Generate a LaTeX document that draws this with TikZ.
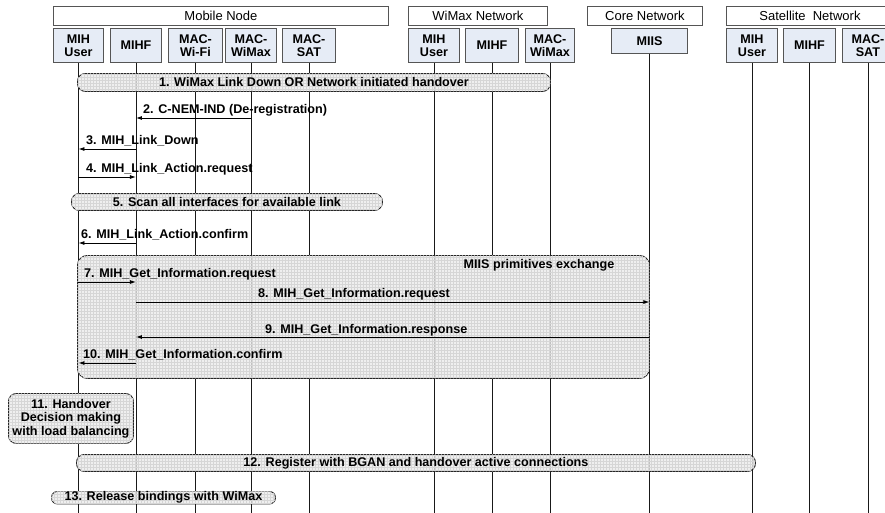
\documentclass[tikz,border=0pt]{standalone}
\usepackage{fontspec}
\setmainfont{Liberation Sans}
\usetikzlibrary{arrows.meta,patterns}

\definecolor{lifefill}{RGB}{230,236,246}
\definecolor{framecol}{RGB}{85,85,85}
\definecolor{eventfill}{RGB}{236,236,236}
\definecolor{gridcol}{RGB}{214,214,214}
\definecolor{linecol}{RGB}{25,25,25}

\tikzset{
  group/.style={draw=framecol, line width=0.9pt, fill=white, inner sep=0pt,
    anchor=north west, minimum height=19pt,
    font=\fontsize{13}{15}\selectfont},
  actor/.style={draw=framecol, line width=0.9pt, fill=lifefill, inner sep=0pt,
    anchor=north west, align=center, minimum height=34pt,
    font=\bfseries\fontsize{12.6}{13}\selectfont},
  lifeline/.style={draw=linecol, line width=0.9pt},
  eventbox/.style={draw=black!85, line width=0.9pt, fill=eventfill,
    fill opacity=0.8, text opacity=1, rounded corners=8pt,
    postaction={pattern=grid, pattern color=gridcol},
    inner sep=0pt, anchor=north west, align=center,
    font=\bfseries\fontsize{12.6}{13.5}\selectfont},
  msg/.style={draw=black, line width=0.9pt, -{Latex[length=6pt,width=4pt]}},
  lbl/.style={inner sep=0pt, anchor=base west,
    font=\bfseries\fontsize{12.6}{14}\selectfont},
}

\begin{document}
\begin{tikzpicture}[x=1pt,y=-1pt]
\clip (0,0) rectangle (885,512);
\fill[white] (0,0) rectangle (885,512);

% domain headers
\node[group, minimum width=335pt] (gmn)  at (53,6)  {Mobile Node};
\node[group, minimum width=139pt] (gwx)  at (408,6) {WiMax Network};
\node[group, minimum width=115pt] (gcore) at (587,6) {Core Network};
\node[group, minimum width=167pt] (gsat) at (726,6) {Satellite~ Network};

% entities
\node[actor, minimum width=50pt] (u1)   at (53,28)  {MIH\\User};
\node[actor, minimum width=51pt] (f1)   at (110,28) {MIHF};
\node[actor, minimum width=54pt] (wf)   at (168,28) {MAC-\\Wi-Fi};
\node[actor, minimum width=51pt] (wm)   at (225,28) {MAC-\\WiMax};
\node[actor, minimum width=53pt] (st)   at (282,28) {MAC-\\SAT};
\node[actor, minimum width=51pt] (u2)   at (408,28) {MIH\\User};
\node[actor, minimum width=53pt] (f2)   at (465,28) {MIHF};
\node[actor, minimum width=49pt] (wm2)  at (525,28) {MAC-\\WiMax};
\node[actor, minimum width=76pt, minimum height=25pt] (miis) at (611,28) {MIIS};
\node[actor, minimum width=51pt] (u3)   at (726,28) {MIH\\User};
\node[actor, minimum width=52pt] (f3)   at (783,28) {MIHF};
\node[actor, minimum width=51pt] (st3)  at (842,28) {MAC-\\SAT};

% lifelines
\coordinate (bottom) at (0,515);
\foreach \n in {u1,f1,wf,wm,st,u2,f2,wm2,miis,u3,f3,st3}
  \draw[lifeline] (\n.south) -- (\n.south |- bottom);

% 1
\node[eventbox, minimum width=473pt, minimum height=18pt] (e1) at (77,73)
  {1. WiMax Link Down OR Network initiated handover};

% 2
\draw[msg] (wm.south |- 0,118) -- (f1.south |- 0,118);
\node[lbl] (l2) at (143,113.5) {2. C-NEM-IND (De-registration)};
% 3
\draw[msg] (f1.south |- 0,149) -- (u1.south |- 0,149);
\node[lbl] (l3) at (86,144.5) {3. MIH\_Link\_Down};
% 4
\draw[msg] (u1.south |- 0,177) -- (f1.south |- 0,177);
\node[lbl] (l4) at (86,172.5) {4. MIH\_Link\_Action.request};

% 5
\node[eventbox, minimum width=311pt, minimum height=17pt] (e5) at (71,193)
  {5. Scan all interfaces for available link};

% 6
\draw[msg] (f1.south |- 0,243) -- (u1.south |- 0,243);
\node[lbl] (l6) at (81,238.5) {6. MIH\_Link\_Action.confirm};

% MIIS exchange group
\node[eventbox, rounded corners=10pt, minimum width=572pt, minimum height=123pt] (ex) at (77,255) {};
\node[lbl, anchor=base] (exl) at (539,268) {MIIS primitives exchange};

% 7
\draw[msg] (u1.south |- 0,282) -- (f1.south |- 0,282);
\node[lbl] (l7) at (84,277) {7. MIH\_Get\_Information.request};
% 8
\draw[msg] (f1.south |- 0,302) -- (miis.south |- 0,302);
\node[lbl] (l8) at (258,297.3) {8. MIH\_Get\_Information.request};
% 9
\draw[msg] (miis.south |- 0,337) -- (f1.south |- 0,337);
\node[lbl] (l9) at (265,333) {9. MIH\_Get\_Information.response};
% 10
\draw[msg] (f1.south |- 0,363) -- (u1.south |- 0,363);
\node[lbl] (l10) at (83,358) {10. MIH\_Get\_Information.confirm};

% 11
\node[eventbox, minimum width=125pt, minimum height=50pt] (e11) at (8,393)
  {11. Handover\\Decision making\\with load balancing};

% 12
\node[eventbox, minimum width=679pt, minimum height=17pt] (e12) at (76,454)
  {12. Register with BGAN and handover active connections};

% 13
\node[eventbox, rounded corners=6pt, minimum width=224pt, minimum height=12.5pt] (e13) at (51,491)
  {13. Release bindings with WiMax};
\end{tikzpicture}
\end{document}
